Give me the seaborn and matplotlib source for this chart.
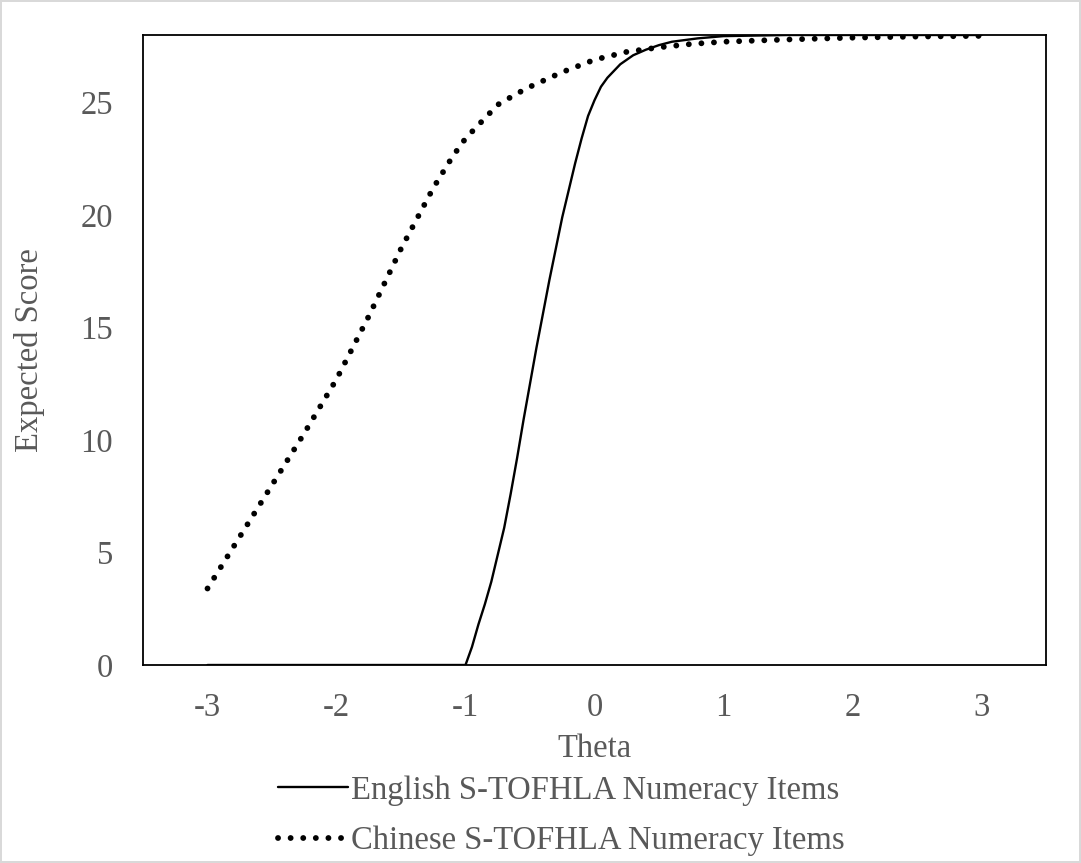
import matplotlib
matplotlib.use("Agg")
import matplotlib.pyplot as plt
import seaborn as sns
import pandas as pd

theta_en = [-3.0, -2.5, -2.0, -1.5, -1.0, -0.95, -0.9, -0.85, -0.8, -0.75, -0.7, -0.65, -0.6,
            -0.55, -0.5, -0.45, -0.4, -0.35, -0.3, -0.25, -0.2, -0.15, -0.1, -0.05,
            0.0, 0.05, 0.1, 0.15, 0.2, 0.3, 0.4, 0.5, 0.6, 0.8, 1.0, 1.5, 2.0, 2.5, 3.0]
score_en = [0.0, 0.0, 0.0, 0.0, 0.0, 0.8, 1.8, 2.7, 3.7, 4.9, 6.1, 7.6, 9.2,
            10.9, 12.5, 14.1, 15.6, 17.1, 18.5, 19.9, 21.1, 22.3, 23.4, 24.4,
            25.1, 25.7, 26.1, 26.4, 26.7, 27.1, 27.35, 27.55, 27.7, 27.85, 27.95, 28.0, 28.0, 28.0, 28.0]

theta_cn = [-3.0, -2.75, -2.5, -2.25, -2.0, -1.75, -1.5, -1.25, -1.1, -1.0, -0.9, -0.75,
            -0.6, -0.5, -0.25, 0.0, 0.25, 0.5, 0.75, 1.0, 1.5, 2.0, 2.5, 3.0]
score_cn = [3.4, 5.7, 8.0, 10.3, 12.7, 15.5, 18.5, 21.2, 22.6, 23.4, 24.0, 24.9,
            25.4, 25.7, 26.35, 26.9, 27.25, 27.45, 27.6, 27.7, 27.8, 27.88, 27.93, 27.96]

label_en = "English S-TOFHLA Numeracy Items"
label_cn = "Chinese S-TOFHLA Numeracy Items"
x_ticks = [-3, -2, -1, 0, 1, 2, 3]
y_ticks = [0, 5, 10, 15, 20, 25]

sns.set_theme(style="white")
plt.rcParams["font.family"] = ["Liberation Serif", "DejaVu Serif"]

df_en = pd.DataFrame({"Theta": theta_en, "Score": score_en})
df_cn = pd.DataFrame({"Theta": theta_cn, "Score": score_cn})

FS = 23.5
GREY = "#595959"

fig = plt.figure(figsize=(10.81, 8.63), dpi=100)
fig.patch.set_edgecolor("#d9d9d9")
fig.patch.set_linewidth(1.5)
ax = fig.add_axes([143/1081, 1 - 665/863, (1046-143)/1081, (665-35)/863])

sns.lineplot(data=df_en, x="Theta", y="Score", ax=ax, color="black", linewidth=1.7,
             label=label_en)
sns.lineplot(data=df_cn, x="Theta", y="Score", ax=ax, color="black", linewidth=4.2,
             linestyle=(0, (0.01, 2.15)), dash_capstyle="round", label=label_cn)

ax.set_xlim(-3.5, 3.5)
ax.set_ylim(0, 28)
ax.set_xticks(x_ticks)
ax.set_yticks(y_ticks)
ax.set_xticklabels([str(v) for v in x_ticks])
ax.set_yticklabels([str(v) for v in y_ticks])
ax.tick_params(axis="both", length=0, labelsize=FS, labelcolor=GREY)
ax.tick_params(axis="x", pad=19.5)
ax.tick_params(axis="y", pad=21.5)
for s in ax.spines.values():
    s.set_color("black")
    s.set_linewidth(1.3)
ax.set_xlabel("Theta", fontsize=FS, color=GREY, labelpad=8)
ax.set_ylabel("Expected Score", fontsize=FS, color=GREY, labelpad=25.5)

leg = ax.legend(loc="upper left", bbox_to_anchor=(278/1081, 1 - 775/863),
                bbox_transform=fig.transFigure, frameon=False, fontsize=FS,
                handlelength=2.15, handletextpad=0.1, labelspacing=0.62, borderpad=0,
                borderaxespad=0)
for t in leg.get_texts():
    t.set_color(GREY)

fig.savefig("out.png", dpi=100, edgecolor=fig.get_edgecolor())
